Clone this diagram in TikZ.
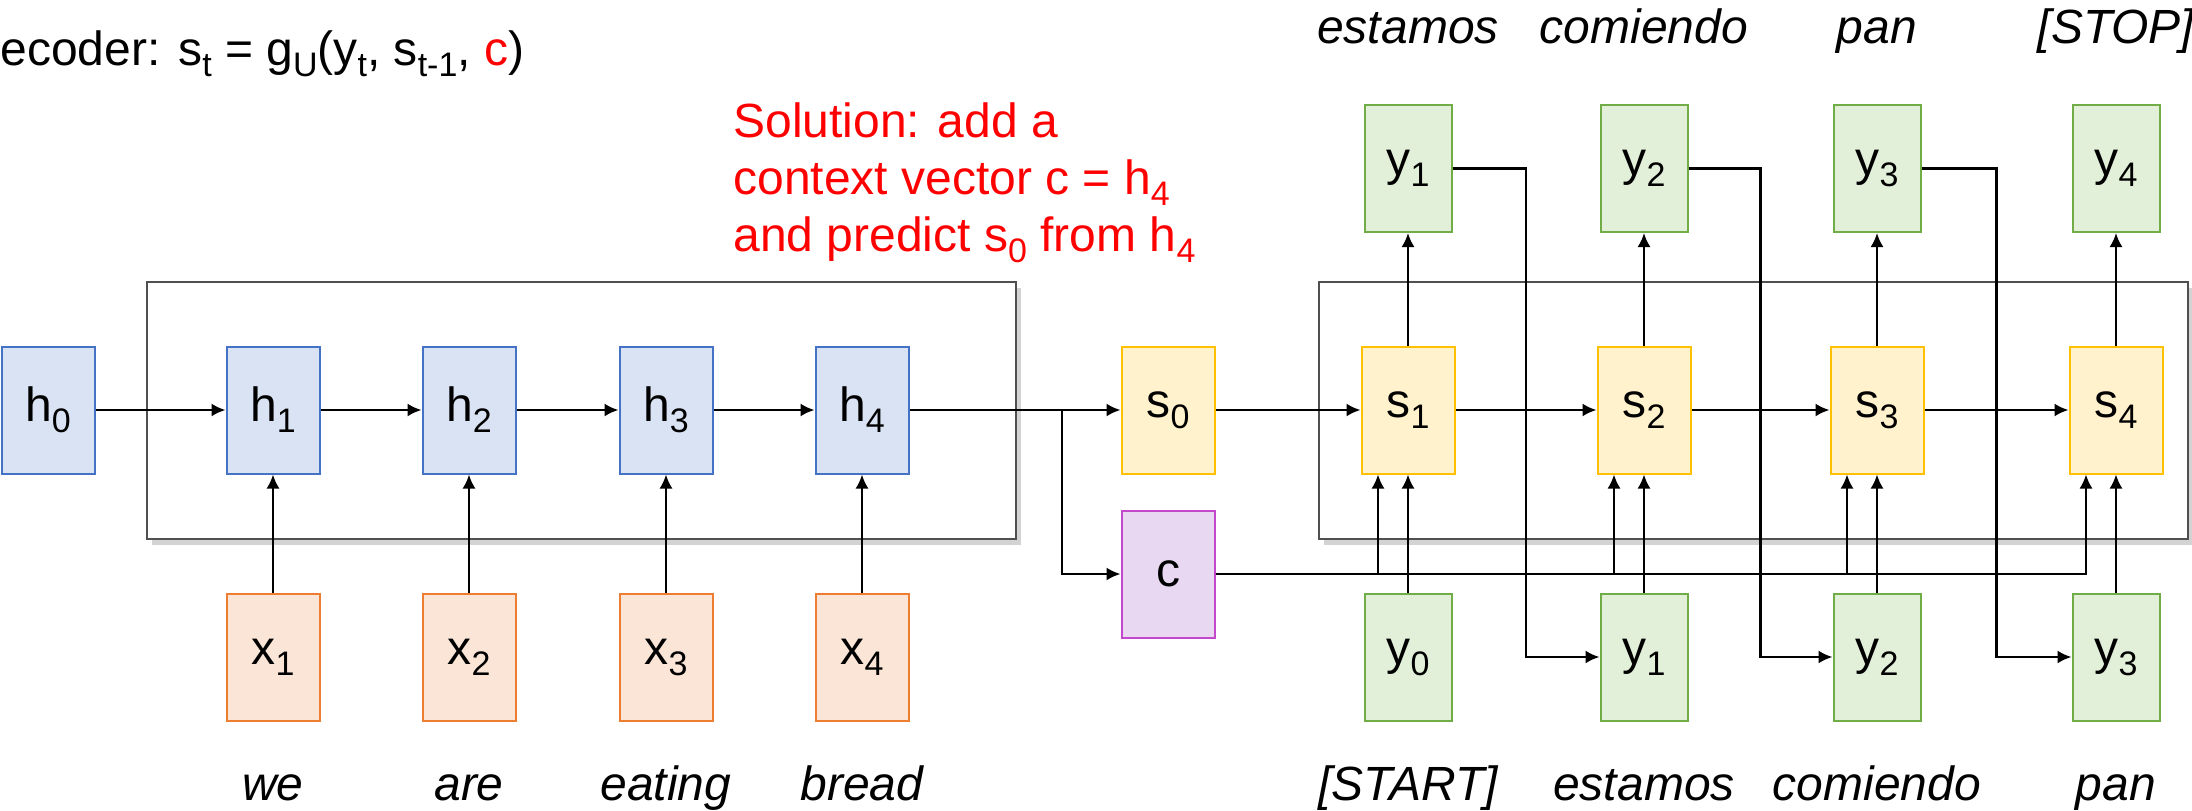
\documentclass[tikz,border=0pt]{standalone}
\usepackage{fontspec}
\setmainfont{Liberation Sans}
\usetikzlibrary{arrows.meta,calc,shadows}
\definecolor{hfill}{HTML}{DAE3F3}
\definecolor{hdraw}{HTML}{4472C4}
\definecolor{xfill}{HTML}{FBE5D6}
\definecolor{xdraw}{HTML}{ED7D31}
\definecolor{sfill}{HTML}{FFF2CC}
\definecolor{sdraw}{HTML}{FFC000}
\definecolor{yfill}{HTML}{E2F0D9}
\definecolor{ydraw}{HTML}{70AD47}
\definecolor{cfill}{HTML}{E8D8F1}
\definecolor{cdraw}{HTML}{C348CC}
\definecolor{framegray}{HTML}{505050}
\newcommand\lowidx[1]{\raisebox{-5.5pt}{\fontsize{17}{17}\selectfont #1}}
\begin{document}
\begin{tikzpicture}
[x=0.5pt,y=-0.5pt,
  bigfont/.style={font=\fontsize{24}{28.5}\selectfont},
  cell/.style={shape=rectangle,draw,line width=1pt,bigfont,
    minimum width=46.5pt,minimum height=63.5pt,inner sep=0pt},
  hcell/.style={cell,fill=hfill,draw=hdraw},
  xcell/.style={cell,fill=xfill,draw=xdraw},
  scell/.style={cell,fill=sfill,draw=sdraw},
  ccell/.style={cell,fill=cfill,draw=cdraw},
  ycell/.style={cell,fill=yfill,draw=ydraw,minimum width=43.5pt},
  word/.style={anchor=base,inner sep=0pt,font=\fontsize{24}{28.5}\selectfont\itshape},
  linkarrow/.style={-{Latex[length=7pt,width=6.5pt]},line width=1.1pt},
  groupframe/.style={draw=framegray,line width=0.6pt,fill=white,
    drop shadow={shadow xshift=2.5pt,shadow yshift=-3pt,opacity=0.35}}]
\useasboundingbox (0,0) rectangle (2192,810);
%% frames round encoder and decoder
\path[groupframe] (147,282) rectangle (1016,539);
\path[groupframe] (1319,282) rectangle (2188,539);
%% texts
\node (title) [anchor=base west,inner sep=0pt,bigfont] at (0,65)
  {ecoder: s\lowidx{t} = g\lowidx{U}(y\lowidx{t}, s\lowidx{t-1}, \textcolor{red}{c})};
\node (note) [anchor=north west,align=left,inner sep=0pt,text=red,bigfont] at (733,102)
  {Solution: add a\\context vector c = h\lowidx{4}\\and predict s\lowidx{0} from h\lowidx{4}};
%% encoder
\foreach \i/\x in {0/48, 1/273, 2/469, 3/666, 4/862} {
  \node (h\i) at (\x,410) [hcell] {h\lowidx{\i}};
}
\foreach \i/\x/\word in {1/273/we, 2/469/are, 3/666/eating, 4/862/bread} {
  \node (x\i) at (\x,657) [xcell] {x\lowidx{\i}};
  \node (w\i) at (\x,800) [word] {\word};
}
%% decoder
\node (s0) at (1168,410) [scell] {s\lowidx{0}};
\node (c) at (1168,574) [ccell] {c};
\foreach \i/\x/\upper/\lower in {1/1408/estamos/[START], 2/1644/comiendo/estamos,
  3/1877/pan/comiendo, 4/2116/[STOP]/pan} {
  \pgfmathtruncatemacro\j{\i-1}
  \node (s\i) at (\x,410) [scell] {s\lowidx{\i}};
  \node (yout\i) at (\x,168.5) [ycell] {y\lowidx{\i}};
  \node (yin\j) at (\x,657) [ycell] {y\lowidx{\j}};
  \node (up\i) at (\x,43) [word] {\upper};
  \node (low\i) at (\x,800) [word] {\lower};
}
%% edges
\foreach \startnode/\endnode in {h0/h1, h1/h2, h2/h3, h3/h4, h4/s0,
  s0/s1, s1/s2, s2/s3, s3/s4} {
  \draw[linkarrow] (\startnode) -- (\endnode);
}
\foreach \i in {1,...,4} {
  \pgfmathtruncatemacro\j{\i-1}
  \draw[linkarrow] (x\i) -- (h\i);
  \draw[linkarrow] (s\i) -- (yout\i);
  \draw[linkarrow] (yin\j) -- (s\i);
  \draw[linkarrow] (c.east) -| ([xshift=-15pt]s\i.south);
}
\coordinate (split) at (1062,410);
\draw[linkarrow] (split) |- (c.west);
\foreach \i in {1,2,3} {
  \draw[linkarrow] (yout\i.east) -| ($(yout\i.east)!.5!(yin\i.west)$) |- (yin\i.west);
}
\end{tikzpicture}
\end{document}
